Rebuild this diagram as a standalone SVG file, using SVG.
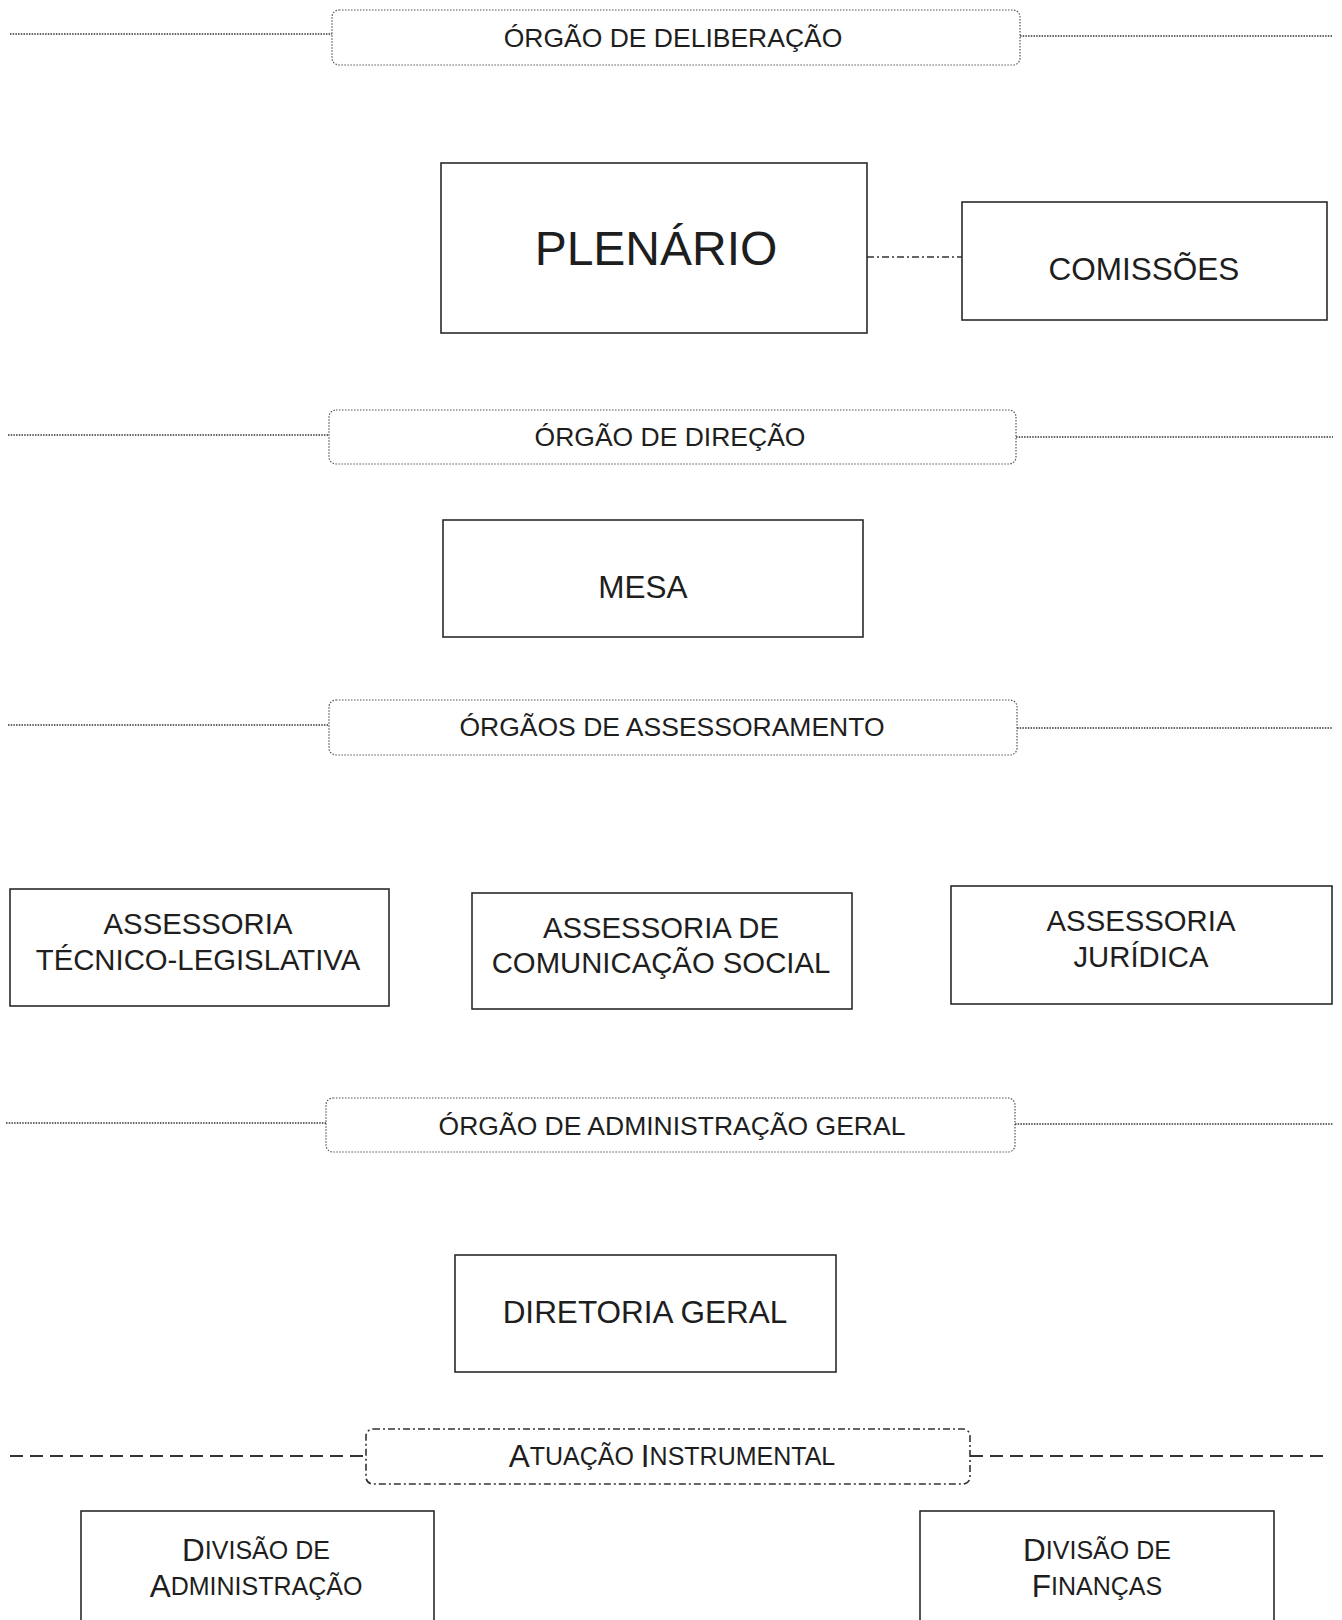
<svg xmlns="http://www.w3.org/2000/svg" width="1342" height="1620" viewBox="0 0 1342 1620">
<style>
text{font-family:"Liberation Sans",Arial,sans-serif;fill:#1e1e1e;text-anchor:middle;dominant-baseline:central}
.box{fill:none;stroke:#2a2a2a;stroke-width:1.6}
.band{fill:none;stroke:#555;stroke-width:1.2;stroke-dasharray:1.5 1.5}
.bline{stroke:#333;stroke-width:1.5;stroke-dasharray:1.5 1.2}
.dd{fill:none;stroke:#333;stroke-width:1.6;stroke-dasharray:7 3 2 3}
.dash{stroke:#333;stroke-width:1.8;stroke-dasharray:13 7}
.bt{font-size:26.5px}
.nt{font-size:31.5px}
.at{font-size:29.3px}
.sc{font-size:25px}
</style>
<rect width="1342" height="1620" fill="#fff"/>
<g id="connectors">
<line class="bline" x1="10" y1="34" x2="332" y2="34"/>
<line class="bline" x1="1020" y1="36" x2="1333" y2="36"/>
<line class="bline" x1="8" y1="435" x2="329" y2="435"/>
<line class="bline" x1="1016" y1="437" x2="1333" y2="437"/>
<line class="bline" x1="8" y1="725" x2="329" y2="725"/>
<line class="bline" x1="1017" y1="728" x2="1333" y2="728"/>
<line class="bline" x1="6" y1="1123" x2="326" y2="1123"/>
<line class="bline" x1="1015" y1="1124" x2="1333" y2="1124"/>
<line class="dash" x1="10" y1="1456" x2="366" y2="1456"/>
<line class="dash" x1="970" y1="1456" x2="1327" y2="1456"/>
<line class="dd" x1="867" y1="257" x2="962" y2="257"/>
</g>
<g id="band-deliberacao">
<rect class="band" x="332" y="10" width="688" height="55" rx="7"/>
<text class="bt" x="673" y="38">ÓRGÃO DE DELIBERAÇÃO</text>
</g>
<g id="plenario">
<rect class="box" x="441" y="163" width="426" height="170"/>
<text x="656" y="248" font-size="48">PLENÁRIO</text>
</g>
<g id="comissoes">
<rect class="box" x="962" y="202" width="365" height="118"/>
<text class="nt" x="1144" y="269">COMISSÕES</text>
</g>
<g id="band-direcao">
<rect class="band" x="329" y="410" width="687" height="54" rx="7"/>
<text class="bt" x="670" y="437">ÓRGÃO DE DIREÇÃO</text>
</g>
<g id="mesa">
<rect class="box" x="443" y="520" width="420" height="117"/>
<text class="nt" x="643" y="587">MESA</text>
</g>
<g id="band-assessoramento">
<rect class="band" x="329" y="700" width="688" height="55" rx="7"/>
<text class="bt" x="672" y="727">ÓRGÃOS DE ASSESSORAMENTO</text>
</g>
<g id="assessoria-tecnico-legislativa">
<rect class="box" x="10" y="889" width="379" height="117"/>
<text class="at" x="198" y="923">ASSESSORIA</text>
<text class="at" x="198" y="959">TÉCNICO-LEGISLATIVA</text>
</g>
<g id="assessoria-comunicacao">
<rect class="box" x="472" y="893" width="380" height="116"/>
<text class="at" x="661" y="927">ASSESSORIA DE</text>
<text class="at" x="661" y="962">COMUNICAÇÃO SOCIAL</text>
</g>
<g id="assessoria-juridica">
<rect class="box" x="951" y="886" width="381" height="118"/>
<text class="at" x="1141" y="920">ASSESSORIA</text>
<text class="at" x="1141" y="956">JURÍDICA</text>
</g>
<g id="band-administracao">
<rect class="band" x="326" y="1098" width="689" height="54" rx="7"/>
<text class="bt" x="672" y="1126">ÓRGÃO DE ADMINISTRAÇÃO GERAL</text>
</g>
<g id="diretoria-geral">
<rect class="box" x="455" y="1255" width="381" height="117"/>
<text class="nt" x="645" y="1312">DIRETORIA GERAL</text>
</g>
<g id="band-atuacao">
<rect class="dd" x="366" y="1429" width="604" height="55" rx="7"/>
<text x="672" y="1456" font-size="31.5">A<tspan class="sc">TUAÇÃO </tspan>I<tspan class="sc">NSTRUMENTAL</tspan></text>
</g>
<g id="divisao-administracao">
<rect class="box" x="81" y="1511" width="353" height="130"/>
<text x="256" y="1550" font-size="31.5">D<tspan class="sc">IVISÃO DE</tspan></text>
<text x="256" y="1586" font-size="31.5">A<tspan class="sc">DMINISTRAÇÃO</tspan></text>
</g>
<g id="divisao-financas">
<rect class="box" x="920" y="1511" width="354" height="130"/>
<text x="1097" y="1550" font-size="31.5">D<tspan class="sc">IVISÃO DE</tspan></text>
<text x="1097" y="1586" font-size="31.5">F<tspan class="sc">INANÇAS</tspan></text>
</g>
</svg>
